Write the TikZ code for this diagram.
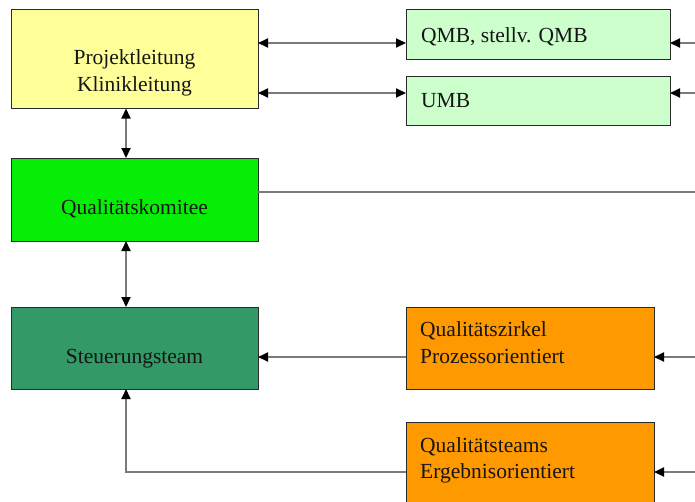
\documentclass[tikz,border=0pt]{standalone}
\usepackage{fontspec}
\setmainfont{Liberation Serif}
\usetikzlibrary{arrows.meta}
\definecolor{cyellow}{HTML}{FFFF99}
\definecolor{cbright}{HTML}{06EE06}
\definecolor{csea}{HTML}{339966}
\definecolor{clight}{HTML}{CCFFCC}
\definecolor{corange}{HTML}{FF9900}
\definecolor{boxline}{HTML}{2A2A2A}
\definecolor{linegray}{HTML}{7A7A7A}
\definecolor{txt}{HTML}{151515}
\begin{document}
\begin{tikzpicture}[x=1pt,y=-1pt,
  box/.style={draw=boxline,line width=1pt,anchor=north west,inner sep=0pt,outer sep=0pt},
  lbl/.style={font=\fontsize{21.5}{27}\selectfont,text=txt,inner sep=0pt,anchor=base},
  lbll/.style={lbl,anchor=base west},
  conn/.style={draw=linegray,line width=2pt},
  >={Triangle[length=10pt,width=9pt,color=black,fill=black]}
]
\useasboundingbox (0,0) rectangle (695,501);
\clip (0,0) rectangle (695,501);

% boxes
\node[box,fill=cyellow,minimum width=247pt,minimum height=99pt] (pl) at (11,9.5) {};
\node[box,fill=cbright,minimum width=247pt,minimum height=83pt] (qk) at (11,158) {};
\node[box,fill=csea,minimum width=247pt,minimum height=82pt] (st) at (11,307) {};
\node[box,fill=clight,minimum width=264pt,minimum height=49.5pt] (qmb) at (406,9.5) {};
\node[box,fill=clight,minimum width=264pt,minimum height=49pt] (umb) at (406,76) {};
\node[box,fill=corange,minimum width=248pt,minimum height=82pt] (qz) at (406,307) {};
\node[box,fill=corange,minimum width=248pt,minimum height=100pt] (qt) at (406,422) {};

% texts
\node[lbl] (t1) at (134.5,64) {Projektleitung};
\node[lbl] (t2) at (134.5,91) {Klinikleitung};
\node[lbl] (t3) at (134.5,214) {Qualitätskomitee};
\node[lbl] (t4) at (134.5,363) {Steuerungsteam};
\node[lbll] (t5) at (421,42) {QMB, stellv. QMB};
\node[lbll] (t6) at (421,107) {UMB};
\node[lbll] (t7) at (420,336) {Qualitätszirkel};
\node[lbll] (t8) at (420,363) {Prozessorientiert};
\node[lbll] (t9) at (420,452) {Qualitätsteams};
\node[lbll] (t10) at (420,478) {Ergebnisorientiert};

% helper coordinates
\coordinate (yq) at (0,43);
\coordinate (yu) at (0,93);
\coordinate (yk) at (0,192);
\coordinate (yz) at (0,357);
\coordinate (yt) at (0,472);
\coordinate (xv) at (126,0);
\coordinate (redge) at (696,0);

% connectors
\draw[conn,<->] (pl.east |- yq) -- (qmb.west |- yq);
\draw[conn,<->] (pl.east |- yu) -- (umb.west |- yu);
\draw[conn,->] (redge |- yq) -- (qmb.east |- yq);
\draw[conn,->] (redge |- yu) -- (umb.east |- yu);
\draw[conn,<->] (pl.south -| xv) -- (qk.north -| xv);
\draw[conn,<->] (qk.south -| xv) -- (st.north -| xv);
\draw[conn] (qk.east |- yk) -- (redge |- yk);
\draw[conn,->] (qz.west |- yz) -- (st.east |- yz);
\draw[conn,->] (redge |- yz) -- (qz.east |- yz);
\draw[conn,->] (qt.west |- yt) -| (st.south -| xv);
\draw[conn,->] (redge |- yt) -- (qt.east |- yt);
\end{tikzpicture}
\end{document}
